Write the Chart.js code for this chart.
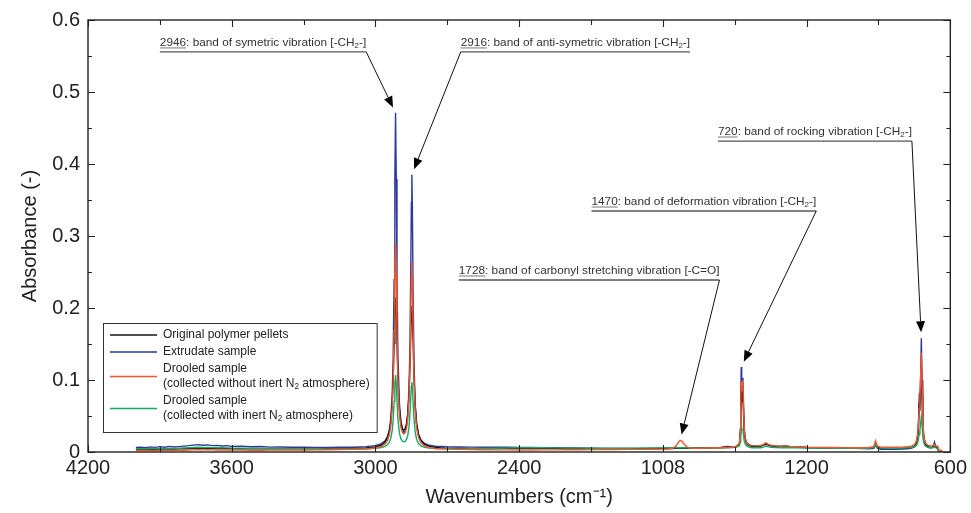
<!DOCTYPE html>
<html>
<head>
<meta charset="utf-8">
<title>FTIR spectra</title>
<script src="https://cdn.jsdelivr.net/npm/chart.js@4.4.1/dist/chart.umd.min.js"></script>
<style>
    html, body { margin: 0; padding: 0; background: #fff; }
    #wrap { width: 971px; height: 513px; }
</style>
</head>
<body>
<div id="wrap"><canvas id="ftirChart" width="971" height="513"></canvas></div>
<script>
// --- SPECTRA (absorbance vs. wavenumber, cm-1) ---
const wavenumbers = [
    4000, 3980, 3960, 3940, 3920, 3900, 3880, 3860, 3840, 3820, 3800, 3780, 3760, 3740, 3720, 3700, 3680, 3660, 3640, 3620, 3600, 3560, 3520, 3480, 3440, 3400, 3350, 3300, 3250, 3200, 3150,
    3100, 3040, 3000, 2975, 2960, 2950, 2942, 2936, 2930, 2926, 2922, 2919, 2916, 2913, 2910, 2906, 2900, 2894, 2888, 2882, 2876, 2870, 2865, 2860, 2856, 2852, 2850, 2848, 2846, 2843, 2839, 2834, 2828, 2820, 2810, 2795, 2775, 2750, 2700,
    2650, 2600, 2550, 2500, 2450, 2400, 2350, 2300, 2250, 2200, 2150, 2100, 2050, 2000, 1950, 1900, 1850, 1800, 1780,
    1760, 1745, 1735, 1728, 1720, 1710, 1700, 1690, 1670, 1650, 1620, 1590, 1560, 1530, 1510, 1495, 1485,
    1480, 1477, 1475, 1473, 1471, 1469, 1466, 1463, 1460, 1456, 1450, 1440, 1430,
    1410, 1390, 1378, 1370, 1362, 1350, 1330, 1305, 1290, 1270, 1240, 1200, 1160, 1120, 1080, 1040, 1000, 970, 940, 920, 912, 905, 890, 860, 830, 800, 780, 760,
    748, 740, 734, 730, 727, 724, 721, 718, 715, 711, 706, 700, 692, 684, 676, 670, 666, 662, 656, 652, 648, 640, 630
];

const pellets = [
    0.0038, 0.0039, 0.0038, 0.0040, 0.0039, 0.0040, 0.0040, 0.0041, 0.0042, 0.0043, 0.0045, 0.0047, 0.0050, 0.0052, 0.0051, 0.0052, 0.0050, 0.0049, 0.0048, 0.0047, 0.0046, 0.0045, 0.0044, 0.0044, 0.0043, 0.0043, 0.0043, 0.0044, 0.0045, 0.0046, 0.0047,
    0.0048, 0.0055, 0.007, 0.0097, 0.0136, 0.0191, 0.028, 0.0409, 0.0669, 0.0995, 0.1505, 0.1939, 0.215, 0.1945, 0.1516, 0.1015, 0.0595, 0.0409, 0.0328, 0.0304, 0.0323, 0.0396, 0.0531, 0.0795, 0.1178, 0.1712, 0.194, 0.203, 0.1936, 0.1564, 0.1045, 0.0636, 0.0389, 0.0241, 0.0159, 0.0106, 0.0078, 0.0062, 0.005,
    0.0048, 0.0047, 0.0047, 0.0048, 0.005, 0.0052, 0.0053, 0.0052, 0.0051, 0.005, 0.0048, 0.0047, 0.0046, 0.0045, 0.0045, 0.0046, 0.0047, 0.0048, 0.0049,
    0.0049, 0.005, 0.0051, 0.0052, 0.0053, 0.0053, 0.0053, 0.0054, 0.0054, 0.0055, 0.0056, 0.0058, 0.006, 0.0068, 0.0064, 0.007, 0.0092,
    0.0115, 0.025, 0.05, 0.088, 0.078, 0.07, 0.086, 0.05, 0.026, 0.016, 0.0115, 0.009, 0.008,
    0.0078, 0.0082, 0.0098, 0.011, 0.0098, 0.0086, 0.0078, 0.0076, 0.008, 0.0075, 0.0069, 0.0062, 0.0058, 0.0056, 0.0055, 0.0054, 0.0053, 0.0052, 0.0052, 0.0058, 0.011, 0.0062, 0.005, 0.0049, 0.005, 0.0053, 0.0058, 0.0068,
    0.0075, 0.012, 0.025, 0.065, 0.062, 0.085, 0.12, 0.08, 0.038, 0.019, 0.012, 0.009, 0.0068, 0.006, 0.0062, 0.008, 0.011, 0.007, 0.0058, 0.0048, 0, 0, 0
];

const extrudate = [
    0.0062, 0.0068, 0.0059, 0.0071, 0.0064, 0.0074, 0.0066, 0.0078, 0.0069, 0.0075, 0.0082, 0.0088, 0.0096, 0.0102, 0.0094, 0.0099, 0.0088, 0.0092, 0.0084, 0.0089, 0.0078, 0.0082, 0.0072, 0.0076, 0.0068, 0.0070, 0.0066, 0.0065, 0.0064, 0.0064, 0.0065,
    0.0067, 0.0075, 0.0089, 0.0116, 0.0155, 0.0213, 0.031, 0.0458, 0.0797, 0.130, 0.2394, 0.378, 0.471, 0.379, 0.2405, 0.132, 0.0679, 0.0443, 0.032, 0.027, 0.029, 0.037, 0.0538, 0.0862, 0.1456, 0.2696, 0.347, 0.385, 0.347, 0.230, 0.1242, 0.0667, 0.0391, 0.0243, 0.0166, 0.0118, 0.0093, 0.008, 0.0072,
    0.007, 0.0068, 0.0067, 0.0066, 0.0065, 0.0063, 0.0062, 0.006, 0.0058, 0.0056, 0.0054, 0.0052, 0.0051, 0.005, 0.0049, 0.0049, 0.005, 0.0051, 0.0052,
    0.0052, 0.0053, 0.0055, 0.0056, 0.0057, 0.0058, 0.0058, 0.0059, 0.0058, 0.0057, 0.0059, 0.0061, 0.0064, 0.0078, 0.0068, 0.0075, 0.0098,
    0.013, 0.032, 0.07, 0.118, 0.088, 0.078, 0.103, 0.062, 0.032, 0.019, 0.013, 0.01, 0.0088,
    0.0082, 0.0085, 0.0105, 0.0118, 0.0105, 0.009, 0.008, 0.0078, 0.0082, 0.0076, 0.007, 0.0062, 0.0058, 0.0055, 0.0054, 0.0052, 0.005, 0.0048, 0.0045, 0.0052, 0.0095, 0.0055, 0.0038, 0.0036, 0.0037, 0.004, 0.0045, 0.0055,
    0.0085, 0.014, 0.03, 0.075, 0.07, 0.105, 0.158, 0.1, 0.045, 0.022, 0.014, 0.01, 0.0075, 0.0065, 0.0068, 0.009, 0.0135, 0.008, 0.0062, 0.005, 0, 0, 0
];

const drooledAir = [
    0.0020, 0.0021, 0.0020, 0.0022, 0.0021, 0.0022, 0.0022, 0.0023, 0.0023, 0.0024, 0.0025, 0.0027, 0.0029, 0.0031, 0.0030, 0.0031, 0.0029, 0.0028, 0.0027, 0.0027, 0.0026, 0.0026, 0.0025, 0.0025, 0.0026, 0.0026, 0.0027, 0.0028, 0.0030, 0.0032, 0.0034,
    0.0036, 0.0042, 0.0055, 0.0077, 0.011, 0.0158, 0.0236, 0.0356, 0.0617, 0.0985, 0.169, 0.2455, 0.29, 0.246, 0.170, 0.1001, 0.0533, 0.0349, 0.0274, 0.0251, 0.0266, 0.0331, 0.0457, 0.0729, 0.1188, 0.201, 0.245, 0.264, 0.2445, 0.1764, 0.1026, 0.0566, 0.0329, 0.0197, 0.0127, 0.0083, 0.006, 0.0048, 0.004,
    0.0037, 0.0034, 0.0032, 0.003, 0.0029, 0.0028, 0.0028, 0.0029, 0.003, 0.0031, 0.0032, 0.0033, 0.0034, 0.0035, 0.0036, 0.0037, 0.0038, 0.004, 0.0042,
    0.005, 0.0085, 0.0135, 0.0162, 0.0148, 0.0105, 0.0072, 0.0058, 0.0052, 0.0053, 0.0055, 0.0056, 0.0058, 0.0062, 0.0066, 0.0078, 0.0105,
    0.0125, 0.028, 0.06, 0.098, 0.092, 0.085, 0.1, 0.058, 0.03, 0.018, 0.0125, 0.0098, 0.0088,
    0.0085, 0.009, 0.011, 0.0128, 0.011, 0.0095, 0.0085, 0.008, 0.0085, 0.0078, 0.0072, 0.0066, 0.0064, 0.0063, 0.0062, 0.0061, 0.006, 0.006, 0.0062, 0.0075, 0.0155, 0.0085, 0.0068, 0.0066, 0.0066, 0.0068, 0.0072, 0.0085,
    0.011, 0.017, 0.032, 0.06, 0.07, 0.105, 0.138, 0.09, 0.042, 0.022, 0.0145, 0.011, 0.0092, 0.0085, 0.0085, 0.009, 0.0105, 0.0088, 0.0082, 0.0078, 0.003, 0.0025, 0
];

const drooledN2 = [
    0.0045, 0.0047, 0.0046, 0.0048, 0.0047, 0.0049, 0.0048, 0.0050, 0.0051, 0.0052, 0.0055, 0.0058, 0.0062, 0.0065, 0.0063, 0.0064, 0.0061, 0.0060, 0.0058, 0.0057, 0.0055, 0.0054, 0.0052, 0.0051, 0.0049, 0.0048, 0.0047, 0.0046, 0.0045, 0.0044, 0.0043,
    0.0043, 0.0046, 0.0052, 0.0062, 0.0078, 0.01, 0.0135, 0.0189, 0.03, 0.0448, 0.0704, 0.0947, 0.107, 0.0949, 0.0708, 0.0455, 0.0265, 0.0186, 0.0152, 0.0142, 0.0148, 0.0177, 0.023, 0.0342, 0.0516, 0.0789, 0.0917, 0.097, 0.0915, 0.0711, 0.0455, 0.0275, 0.0174, 0.0116, 0.0085, 0.0064, 0.0054, 0.0048, 0.0045,
    0.0044, 0.0045, 0.0048, 0.0052, 0.0056, 0.0058, 0.0059, 0.0058, 0.0057, 0.0056, 0.0054, 0.0053, 0.0052, 0.0052, 0.0053, 0.0054, 0.0055, 0.0057, 0.0058,
    0.0058, 0.0059, 0.006, 0.006, 0.0059, 0.0058, 0.0057, 0.0056, 0.0055, 0.0054, 0.0055, 0.0056, 0.0058, 0.006, 0.0062, 0.0068, 0.008,
    0.009, 0.014, 0.022, 0.034, 0.033, 0.031, 0.032, 0.022, 0.015, 0.011, 0.0085, 0.0068, 0.006,
    0.0058, 0.006, 0.0072, 0.0082, 0.0074, 0.0066, 0.0062, 0.006, 0.0063, 0.006, 0.0057, 0.0055, 0.0054, 0.0054, 0.0053, 0.0053, 0.0052, 0.0052, 0.0053, 0.006, 0.0105, 0.0062, 0.0054, 0.0053, 0.0053, 0.0055, 0.0058, 0.0065,
    0.0075, 0.01, 0.016, 0.025, 0.03, 0.04, 0.049, 0.038, 0.022, 0.013, 0.009, 0.0075, 0.0062, 0.0058, 0.0058, 0.0062, 0.0072, 0.0062, 0.0055, 0.0048, 0, 0, 0
];

// --- AXES ---
const xTickValues = [4200, 3600, 3000, 2400, 1800, 1200, 600];
const xTickLabels = ['4200', '3600', '3000', '2400', '1008', '1200', '600'];
const xMinorTicks = [3900, 3300, 2700, 2100, 1500, 900];
const yTickValues = [0, 0.1, 0.2, 0.3, 0.4, 0.5, 0.6];
const yTickLabels = ['0', '0.1', '0.2', '0.3', '0.4', '0.5', '0.6'];
const yMinorTicks = [0.05, 0.15, 0.25, 0.35, 0.45, 0.55];

// --- SERIES (legend order); "_2" marks a subscript 2 ---
const seriesLabels = [
    ['Original polymer pellets'],
    ['Extrudate sample'],
    ['Drooled sample', '(collected without inert N_2 atmosphere)'],
    ['Drooled sample', '(collected with inert N_2 atmosphere)']
];
const seriesValues = [pellets, extrudate, drooledAir, drooledN2];
const seriesColors = ['#141414', '#2c3a9c', '#f0562b', '#16a866'];
const drawOrder = [2, 3, 0, 1]; // orange on top, then green

// --- BAND ANNOTATIONS (label position in data units, arrow to the peak) ---
const bands = [
    { num: '2946', text: ': band of symetric vibration [-CH_2-]', x: 3900, y: 0.5556, from: 'right', peak: 2916 },
    { num: '2916', text: ': band of anti-symetric vibration [-CH_2-]', x: 2644, y: 0.5556, from: 'left', peak: 2848 },
    { num: '1728', text: ': band of carbonyl stretching vibration [-C=O]', x: 2652, y: 0.2389, from: 'right', peak: 1728 },
    { num: '1470', text: ': band of deformation vibration [-CH_2-]', x: 2098, y: 0.3347, from: 'right', peak: 1473 },
    { num: '720', text: ': band of rocking vibration [-CH_2-]', x: 1570, y: 0.4319, from: 'right', peak: 721 }
];

const FONT = '"Liberation Sans", Arial, Helvetica, sans-serif';
Chart.defaults.font.family = FONT;
Chart.defaults.color = '#222';

// text with "_d" subscripts; returns drawn width
function richText(ctx, str, x, y, size, draw) {
    let cx = x;
    str.split(/(_\d)/).forEach(part => {
        if (!part) return;
        if (part[0] === '_') {
            ctx.font = (size * 0.68).toFixed(1) + 'px ' + FONT;
            if (draw) ctx.fillText(part.slice(1), cx, y + size * 0.2);
            cx += ctx.measureText(part.slice(1)).width;
        } else {
            ctx.font = size + 'px ' + FONT;
            if (draw) ctx.fillText(part, cx, y);
            cx += ctx.measureText(part).width;
        }
    });
    return cx - x;
}

function arrow(ctx, sx, sy, tx, ty) {
    const len = Math.hypot(tx - sx, ty - sy);
    const ux = (tx - sx) / len, uy = (ty - sy) / len;
    const head = 11, half = 4.5;
    const bx = tx - ux * head, by = ty - uy * head;
    ctx.beginPath();
    ctx.moveTo(sx, sy);
    ctx.lineTo(bx, by);
    ctx.stroke();
    ctx.beginPath();
    ctx.moveTo(tx, ty);
    ctx.lineTo(bx - uy * half, by + ux * half);
    ctx.lineTo(bx + uy * half, by - ux * half);
    ctx.closePath();
    ctx.fill();
}

const framePlugin = {
    id: 'frameAndNotes',
    afterDraw(chart) {
        const { ctx, chartArea: a, scales: { x, y } } = chart;
        ctx.save();

        // box frame with inward ticks on all four sides
        ctx.strokeStyle = '#222';
        ctx.lineWidth = 1.4;
        ctx.strokeRect(a.left, a.top, a.right - a.left, a.bottom - a.top);
        ctx.lineWidth = 1.1;
        ctx.beginPath();
        const xt = (v, len) => {
            const p = Math.round(x.getPixelForValue(v)) + 0.5;
            ctx.moveTo(p, a.bottom); ctx.lineTo(p, a.bottom - len);
            ctx.moveTo(p, a.top); ctx.lineTo(p, a.top + len);
        };
        const yt = (v, len) => {
            const p = Math.round(y.getPixelForValue(v)) + 0.5;
            ctx.moveTo(a.left, p); ctx.lineTo(a.left + len, p);
            ctx.moveTo(a.right, p); ctx.lineTo(a.right - len, p);
        };
        xTickValues.forEach(v => xt(v, 7));
        xMinorTicks.forEach(v => xt(v, 5));
        yTickValues.forEach(v => yt(v, 7));
        yMinorTicks.forEach(v => yt(v, 4));
        ctx.stroke();

        // legend box
        const lx = a.left + 15, textX = lx + 60, lh = 15, gap = 2;
        ctx.font = '12px ' + FONT;
        let maxW = 0, totalH = 0;
        seriesLabels.forEach(lines => {
            lines.forEach(t => { maxW = Math.max(maxW, richText(ctx, t, 0, 0, 12, false)); });
            totalH += lines.length * lh + gap;
        });
        const boxH = 12 + totalH - gap - lh + 16;
        const boxW = textX - lx + maxW + 7;
        const top = a.bottom - 20 - boxH;
        ctx.strokeStyle = '#333';
        ctx.lineWidth = 1;
        ctx.strokeRect(lx + 0.5, top + 0.5, boxW, boxH);
        ctx.textBaseline = 'middle';
        ctx.fillStyle = '#222';
        let ly = top + 12;
        seriesLabels.forEach((lines, i) => {
            const mid = ly + (lines.length - 1) * lh / 2;
            ctx.strokeStyle = seriesColors[i];
            ctx.lineWidth = 1.5;
            ctx.beginPath();
            ctx.moveTo(lx + 7, mid); ctx.lineTo(lx + 54, mid);
            ctx.stroke();
            lines.forEach((t, k) => richText(ctx, t, textX, ly + k * lh, 12, true));
            ly += lines.length * lh + gap;
        });

        // band annotations
        ctx.textBaseline = 'alphabetic';
        const fs = 11.8;
        bands.forEach(b => {
            const x0 = x.getPixelForValue(b.x);
            const lineY = y.getPixelForValue(b.y);
            const base = lineY - 6;
            ctx.fillStyle = '#333';
            ctx.font = fs + 'px ' + FONT;
            ctx.fillText(b.num, x0, base);
            const nw = ctx.measureText(b.num).width;
            const tw = nw + richText(ctx, b.text, x0 + nw, base, fs, true);
            ctx.strokeStyle = '#555';
            ctx.lineWidth = 0.8;
            ctx.beginPath();
            ctx.moveTo(x0, base + 2); ctx.lineTo(x0 + nw, base + 2);
            ctx.stroke();
            ctx.lineWidth = 1.3;
            ctx.beginPath();
            ctx.moveTo(x0, lineY); ctx.lineTo(x0 + tw, lineY);
            ctx.stroke();

            const idx = wavenumbers.indexOf(b.peak);
            const peakVal = Math.max(...seriesValues.map(s => s[idx]));
            const px = x.getPixelForValue(b.peak), py = y.getPixelForValue(peakVal);
            const sx = b.from === 'right' ? x0 + tw : x0;
            const d = Math.hypot(px - sx, py - lineY);
            const tx = px - (px - sx) / d * 6, ty = py - (py - lineY) / d * 6;
            ctx.strokeStyle = '#111';
            ctx.fillStyle = '#000';
            ctx.lineWidth = 1;
            arrow(ctx, sx, lineY, tx, ty);
        });

        ctx.restore();
    }
};

new Chart(document.getElementById('ftirChart'), {
    type: 'line',
    data: {
        datasets: seriesValues.map((vals, i) => ({
            label: seriesLabels[i].join(' '),
            data: wavenumbers.map((w, k) => ({ x: w, y: vals[k] })),
            borderColor: seriesColors[i],
            borderWidth: 1.4,
            pointRadius: 0,
            tension: 0,
            order: drawOrder[i]
        }))
    },
    options: {
        responsive: false,
        animation: false,
        layout: { padding: { top: 20, right: 18, left: 0, bottom: 0 } },
        plugins: {
            legend: { display: false },
            tooltip: { enabled: false }
        },
        scales: {
            x: {
                type: 'linear',
                reverse: true,
                min: 600,
                max: 4200,
                afterBuildTicks: (scale) => { scale.ticks = xTickValues.map(v => ({ value: v })); },
                afterFit: (scale) => { scale.height = 61; },
                grid: { display: false, drawTicks: false },
                border: { display: false },
                ticks: {
                    autoSkip: false,
                    maxRotation: 0,
                    padding: 4,
                    color: '#222',
                    font: { size: 20 },
                    callback: (v) => xTickLabels[xTickValues.indexOf(v)]
                },
                title: {
                    display: true,
                    text: 'Wavenumbers (cm\u207B\u00B9)',
                    color: '#222',
                    font: { size: 20 },
                    padding: { top: 0, bottom: 4 }
                }
            },
            y: {
                min: 0,
                max: 0.6,
                afterBuildTicks: (scale) => { scale.ticks = yTickValues.map(v => ({ value: v })); },
                afterFit: (scale) => { scale.width = 88; },
                grid: { display: false, drawTicks: false },
                border: { display: false },
                ticks: {
                    padding: 8,
                    color: '#222',
                    font: { size: 20 },
                    callback: (v) => yTickLabels[yTickValues.indexOf(v)]
                },
                title: {
                    display: true,
                    text: 'Absorbance (-)',
                    color: '#222',
                    font: { size: 20 },
                    padding: { top: 18, bottom: 0 }
                }
            }
        }
    },
    plugins: [framePlugin]
});
</script>
</body>
</html>
